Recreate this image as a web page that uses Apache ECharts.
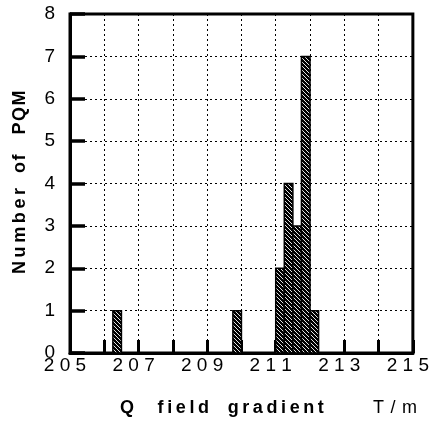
<!DOCTYPE html>
<html>
<head>
<meta charset="utf-8">
<script src="https://cdn.jsdelivr.net/npm/echarts@6/dist/echarts.min.js"></script>
<style>
  html, body { margin: 0; padding: 0; background: #fff; }
  #chart { width: 432px; height: 426px; }
</style>
</head>
<body>
<div id="chart"></div>
<script>
// histogram bins (T/m) and counts
var binStart = [206.25, 209.75, 211.0, 211.25, 211.5, 211.75, 212.0];
var binEnd   = [206.5, 210.0, 211.25, 211.5, 211.75, 212.0, 212.25];
var counts   = [1, 1, 2, 4, 3, 7, 1];

var xTickLabels = ['205', '207', '209', '211', '213', '215'];

var chartDom = document.getElementById('chart');
var myChart = echarts.init(chartDom);

// hatch pattern for the bars
var hatch = document.createElement('canvas');
hatch.width = 4;
hatch.height = 4;
var ctx = hatch.getContext('2d');
ctx.fillStyle = '#000';
ctx.fillRect(0, 0, 4, 4);
ctx.strokeStyle = '#fff';
ctx.lineWidth = 0.9;
ctx.beginPath();
ctx.moveTo(0, 0); ctx.lineTo(4, 4);
ctx.moveTo(-2, 2); ctx.lineTo(2, 6);
ctx.moveTo(2, -2); ctx.lineTo(6, 2);
ctx.stroke();

var barData = binStart.map(function (s, i) {
  return [s, binEnd[i], counts[i]];
});

var font = 'Liberation Sans, Arial, sans-serif';
var THIN = '\u2009';
var HAIR = '\u200A';

// spread letters like the old typewriter-style labels
function spread(word, sep) {
  return word.split('').join(sep);
}

var option = {
  animation: false,
  backgroundColor: '#fff',
  grid: {
    left: 70, right: 16, top: 14, bottom: 73,
    show: true, borderColor: '#000', borderWidth: 3
  },
  xAxis: {
    type: 'value',
    min: 205, max: 215, interval: 1,
    axisLine: { lineStyle: { color: '#000', width: 3 } },
    axisTick: { show: true, inside: true, length: 13, lineStyle: { color: '#000', width: 3 } },
    splitLine: { show: true, lineStyle: { color: '#000', width: 1, type: [2, 3] } },
    axisLabel: {
      color: '#000', fontFamily: font, fontSize: 19, margin: 3,
      padding: [0, 10, 0, 0],
      formatter: function (v) {
        var s = String(Math.round(v));
        return xTickLabels.indexOf(s) >= 0 ? s.split('').join(' ') : '';
      }
    }
  },
  yAxis: {
    type: 'value',
    min: 0, max: 8, interval: 1,
    axisLine: { lineStyle: { color: '#000', width: 3 } },
    axisTick: { show: true, inside: true, length: 15, lineStyle: { color: '#000', width: 3.5 } },
    splitLine: { show: true, lineStyle: { color: '#000', width: 1, type: [2, 3] } },
    axisLabel: { color: '#000', fontFamily: font, fontSize: 19, margin: 15 }
  },
  graphic: [
    {
      type: 'text', left: 120, top: 399,
      style: {
        text: 'Q' + '    ' + THIN + spread('field', THIN) + '   ' + THIN + spread('gradient', THIN),
        font: 'bold 18px ' + font, fill: '#000'
      }
    },
    {
      type: 'text', left: 373, top: 399,
      style: { text: 'T' + ' ' + HAIR + '/' + ' ' + HAIR + 'm', font: '18px ' + font, fill: '#000' }
    },
    {
      type: 'text', x: 11, y: 274, rotation: Math.PI / 2,
      style: {
        text: spread('Number', THIN) + '   ' + spread('of', HAIR) + '    ' + spread('PQM', HAIR),
        font: 'bold 18px ' + font, fill: '#000'
      }
    }
  ],
  series: [
    {
      type: 'custom',
      data: barData,
      encode: { x: [0, 1], y: 2 },
      renderItem: function (params, api) {
        var p0 = api.coord([api.value(0), api.value(2)]);
        var p1 = api.coord([api.value(1), 0]);
        return {
          type: 'rect',
          shape: { x: p0[0], y: p0[1], width: p1[0] - p0[0], height: p1[1] - p0[1] },
          style: { fill: { image: hatch, repeat: 'repeat' }, stroke: '#000', lineWidth: 1.5 }
        };
      }
    }
  ]
};

option && myChart.setOption(option);
</script>
</body>
</html>
